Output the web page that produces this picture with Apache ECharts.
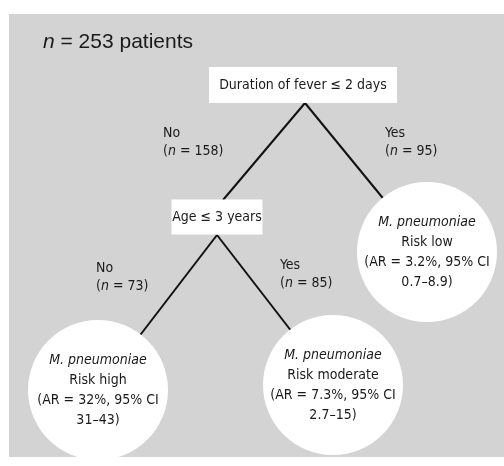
<!DOCTYPE html>
<html>
<head>
<meta charset="utf-8">
<script src="https://cdn.jsdelivr.net/npm/echarts@6/dist/echarts.min.js"></script>
<style>
  html, body { margin: 0; padding: 0; background: #fff; }
  #main { width: 504px; height: 466px; }
</style>
</head>
<body>
<div id="main"></div>
<script>
// tree content
const totalPatients = 253;
const splitQuestions = ['Duration of fever ≤ 2 days', 'Age ≤ 3 years'];
const branchAnswers = ['No', 'Yes', 'No', 'Yes'];
const branchCounts = [158, 95, 73, 85];
const riskLevels = ['Risk low', 'Risk high', 'Risk moderate'];
const riskAR = ['3.2%', '32%', '7.3%'];
const ciLow = ['0.7', '31', '2.7'];
const ciHigh = ['8.9', '43', '15'];

// where each piece sits (page pixels, mapped through hidden axes)
const layout = {
  q0: [303, 85], q0Bottom: [305, 103],
  q1: [217, 217], q1Top: [223, 200], q1Bottom: [217, 235],
  leaf0: [427, 252], leaf1: [98, 390], leaf2: [333, 385],
  b0: [163, 124], b1: [385, 124], b2: [96, 259], b3: [280, 256]
};
const boxSizes = [[188, 36], [91, 35]];
const leafRadius = 140;

const FONT = "'DejaVu Sans Condensed', 'DejaVu Sans', sans-serif";
const TXT = '#1a1a1a';

const chart = echarts.init(document.getElementById('main'));

const nodes = [];
// question boxes
splitQuestions.forEach((q, i) => {
  nodes.push({
    name: 'q' + i,
    value: layout['q' + i],
    symbol: 'rect',
    symbolSize: boxSizes[i],
    itemStyle: { color: '#fff' },
    label: {
      show: true, position: 'inside', formatter: q,
      fontFamily: FONT, fontSize: 14, color: TXT
    }
  });
});
// anchors at box edges so the branches meet like the original
['q0Bottom', 'q1Top', 'q1Bottom'].forEach((k) => {
  nodes.push({ name: k, value: layout[k], symbol: 'circle', symbolSize: 0, label: { show: false } });
});
// leaves
riskLevels.forEach((r, i) => {
  nodes.push({
    name: 'leaf' + i,
    value: layout['leaf' + i],
    symbol: 'circle',
    symbolSize: leafRadius,
    itemStyle: { color: '#fff' },
    label: {
      show: true, position: 'inside',
      formatter: '{i|M. pneumoniae}\n' + r + '\n(AR = ' + riskAR[i] + ', 95% CI\n' + ciLow[i] + '–' + ciHigh[i] + ')',
      fontFamily: FONT, fontSize: 14, lineHeight: 20, color: TXT, align: 'center',
      rich: { i: { fontStyle: 'italic', fontFamily: FONT, fontSize: 14, lineHeight: 20, color: TXT } }
    }
  });
});
// branch labels
branchAnswers.forEach((a, i) => {
  nodes.push({
    name: 'b' + i,
    value: layout['b' + i],
    symbol: 'circle',
    symbolSize: 0,
    label: {
      show: true, position: [0, 0], align: 'left', verticalAlign: 'top',
      formatter: a + '\n({i|n} = ' + branchCounts[i] + ')',
      fontFamily: FONT, fontSize: 14, lineHeight: 18, color: TXT,
      rich: { i: { fontStyle: 'italic', fontFamily: FONT, fontSize: 14, lineHeight: 18, color: TXT } }
    }
  });
});

const links = [
  { source: 'q0Bottom', target: 'q1Top' },
  { source: 'q0Bottom', target: 'leaf0' },
  { source: 'q1Bottom', target: 'leaf1' },
  { source: 'q1Bottom', target: 'leaf2' }
];

const option = {
  animation: false,
  title: {
    text: '{i|n} = ' + totalPatients + ' patients',
    left: 38,
    top: 27,
    textStyle: {
      fontFamily: "'Liberation Sans', Arial, sans-serif",
      fontSize: 21, fontWeight: 'normal', color: TXT,
      rich: { i: { fontStyle: 'italic', fontFamily: "'Liberation Sans', Arial, sans-serif", fontSize: 21, color: TXT } }
    }
  },
  grid: {
    show: true, left: 9, top: 14, right: 0, bottom: 9,
    backgroundColor: '#d3d3d3', borderWidth: 0
  },
  xAxis: { type: 'value', min: 9, max: 504, show: false },
  yAxis: { type: 'value', min: 14, max: 457, inverse: true, show: false },
  series: [{
    type: 'graph',
    coordinateSystem: 'cartesian2d',
    silent: true,
    data: nodes,
    links: links,
    edgeSymbol: ['none', 'none'],
    lineStyle: { color: '#111', width: 2, opacity: 1, curveness: 0 }
  }]
};

chart.setOption(option);
</script>
</body>
</html>
